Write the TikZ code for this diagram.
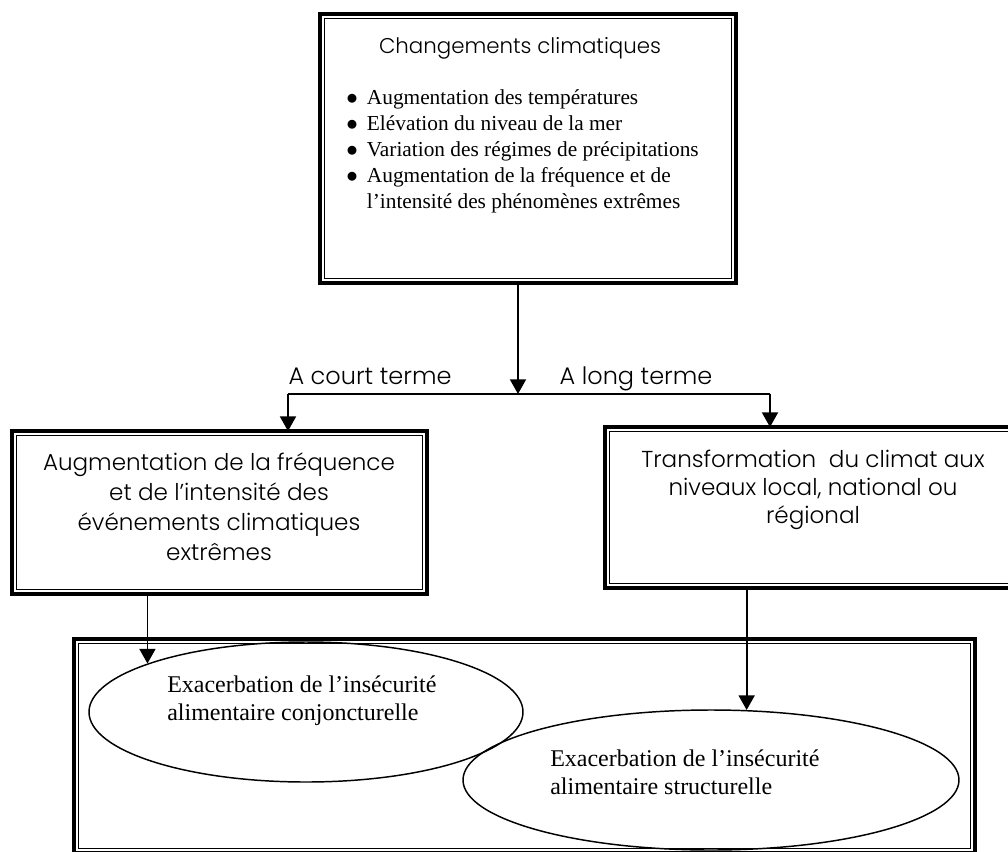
\documentclass[tikz,border=0pt]{standalone}
\usepackage{fontspec}
\setmainfont{Liberation Serif}
\newfontfamily\gothique{Poppins Light}
\usetikzlibrary{arrows.meta, fit, shapes.geometric}

\newcommand{\puce}{\makebox[15.5pt][l]{$\bullet$}}

\begin{document}
\begin{tikzpicture}[x = 0.75pt, y = -0.75pt,
    cadre/.style = {inner sep = 0pt},
    bulle/.style = {ellipse, draw, line width = 1.1pt, inner sep = 0pt},
    fleche/.style = {-{Triangle[width = 12pt, length = 11pt]}, line width = 1.4pt},
    trait/.style = {line width = 1.4pt},
    sans/.style = {font = \gothique\fontsize{17.3}{22.5}\selectfont,
      align = center, inner sep = 0pt},
    serif/.style = {font = \fontsize{18}{21}\selectfont,
      align = left, inner sep = 0pt}]

  \useasboundingbox (0, 0) rectangle (1008, 851);
  \clip (0, 0) rectangle (1008, 851);

  % cadres
  \node[cadre, fit = {(320.3, 14.3) (735.7, 282.7)}] (clim) {};
  \node[cadre, fit = {(12.3, 431.3) (426.7, 593.7)}] (court) {};
  \node[cadre, fit = {(605.3, 427.3) (1021, 587.7)}] (long) {};
  \node[cadre, fit = {(74.3, 639.3) (974.7, 853)}] (effets) {};

  \foreach \n in {clim, court, long, effets} {
    \draw[line width = 3.4pt]
      (\n.south west) rectangle (\n.north east);
    \draw[line width = 0.6pt]
      ([shift = {(4.5, -4.5)}]\n.south west)
      rectangle ([shift = {(-4.5, 4.5)}]\n.north east);
  }

  % textes des cadres
  \node[sans, anchor = north, font = \gothique\fontsize{16}{20}\selectfont]
    (titre) at (520, 37) {Changements climatiques};
  \node[anchor = north west, inner sep = 0pt, align = left,
    font = \fontsize{16}{19.5}\selectfont] (liste) at (346, 89) {%
    \puce Augmentation des températures\\
    \puce Elévation du niveau de la mer\\
    \puce Variation des régimes de précipitations\\
    \puce Augmentation de la fréquence et de\\
    \hspace*{15.5pt}l’intensité des phénomènes extrêmes};
  \node[sans, anchor = north] (courttxt) at (219, 452) {%
    Augmentation de la fréquence\\
    et de l’intensité des\\
    événements climatiques\\
    extrêmes};
  \node[sans, anchor = north, font = \gothique\fontsize{17.3}{21}\selectfont]
    (longtxt) at (813, 450) {%
    Transformation\ \ du climat aux\\
    niveaux local, national ou\\
    régional};

  % ellipses
  \node[bulle, minimum width = 434*0.75pt, minimum height = 140*0.75pt]
    (conj) at (306, 712) {};
  \node[bulle, minimum width = 496*0.75pt, minimum height = 140*0.75pt]
    (struc) at (711, 780) {};
  \node[serif, anchor = north west] (conjtxt) at (167, 676) {%
    Exacerbation de l’insécurité\\
    alimentaire conjoncturelle};
  \node[serif, anchor = north west] (structxt) at (550, 750) {%
    Exacerbation de l’insécurité\\
    alimentaire structurelle};

  % connecteurs
  \coordinate (tronc) at (518, 394);
  \coordinate (gauche) at (288, 394);
  \coordinate (droite) at (770, 394);
  \draw[fleche] (clim.south -| tronc) -- (tronc);
  \draw[trait] (gauche) -- (droite);
  \draw[fleche] (gauche) -- (gauche |- court.north);
  \draw[fleche] (droite) -- (droite |- long.north);
  \draw[fleche] (court.south -| conj.163) -- (conj.163);
  \draw[fleche] (long.south -| struc.63.2) -- (struc.63.2);

  \node[sans, anchor = base, font = \gothique\fontsize{18}{20}\selectfont]
    (courtlbl) at (370, 384) {A court terme};
  \node[sans, anchor = base, font = \gothique\fontsize{18}{20}\selectfont]
    (longlbl) at (636, 384) {A long terme};

\end{tikzpicture}
\end{document}
